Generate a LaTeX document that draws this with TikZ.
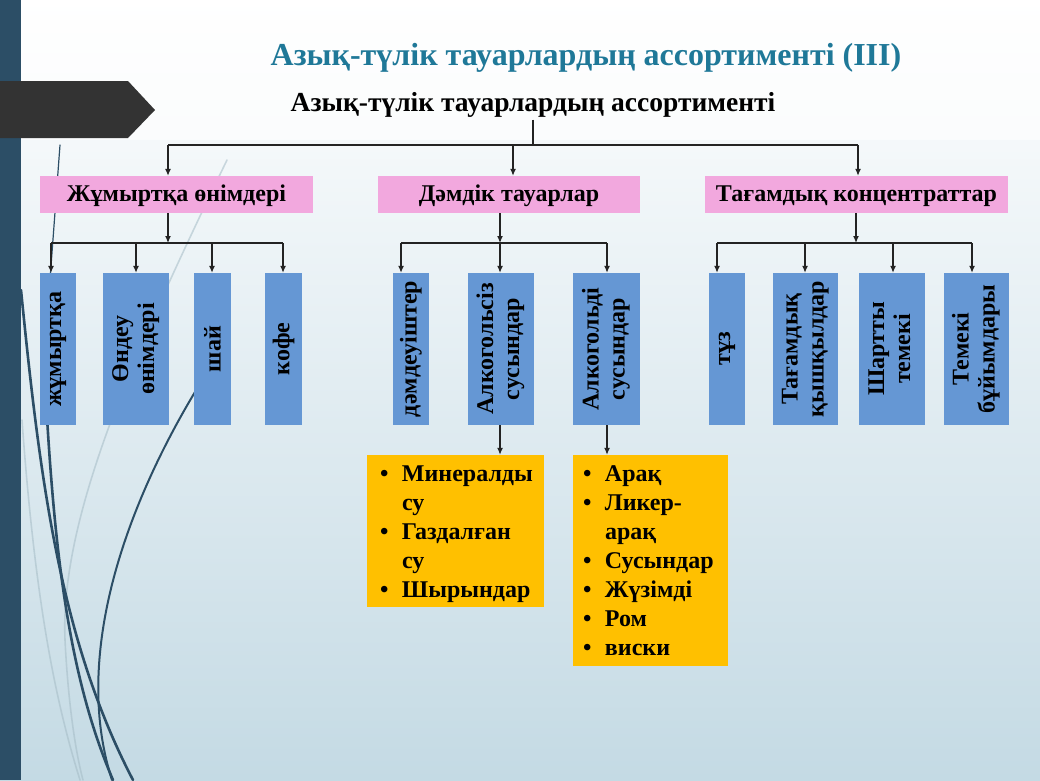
\documentclass[tikz,border=0pt]{standalone}
\usepackage{fontspec}
\setmainfont{Liberation Serif}
\usetikzlibrary{arrows.meta}
\definecolor{stripcol}{RGB}{44,78,102}
\definecolor{tagcol}{RGB}{51,51,51}
\definecolor{titlecol}{RGB}{31,120,152}
\definecolor{pinkcol}{RGB}{242,168,222}
\definecolor{bluecol}{RGB}{101,151,212}
\definecolor{yellowcol}{RGB}{255,192,0}
\definecolor{bgbot}{RGB}{196,218,228}
\definecolor{bgmid}{RGB}{222,235,240}
\definecolor{curvelight}{RGB}{165,188,198}
\definecolor{linecol}{RGB}{35,35,35}
\begin{document}
\begin{tikzpicture}[x=1pt,y=-1pt,
  ln/.style={draw=linecol, line width=1.2pt},
  arr/.style={ln, -{Latex[length=7pt,width=6pt]}},
  pinkbx/.style={fill=pinkcol, inner sep=0pt, minimum height=37pt, text height=18pt, text depth=5pt, font=\bfseries\fontsize{24}{28}\selectfont},
  bluebx/.style={fill=bluecol, inner sep=0pt, minimum height=152pt, font=\bfseries\fontsize{24}{26}\selectfont},
  yellowbx/.style={fill=yellowcol, inner sep=0pt},
  ytext/.style={anchor=north west, inner sep=0pt, font=\bfseries\fontsize{24}{29}\selectfont},
  darkcurve/.style={draw=stripcol, line cap=round},
  lightcurve/.style={draw=curvelight, line width=1.6pt, opacity=0.55, line cap=round}
]
\useasboundingbox (0,0) rectangle (1040,780);
% background
\shade[top color=white, middle color=bgmid, bottom color=bgbot] (0,0) rectangle (1040,780);
\fill[white, opacity=0.6] (0,0) rectangle (1040,140);
\fill[stripcol] (0,0) rectangle (21,780);
\fill[tagcol] (0,81) -- (128,81) -- (155,110) -- (128,138) -- (0,138) -- cycle;

% decorative curves
\draw[lightcurve] (227,160) .. controls (130,360) and (60,520) .. (65,640) .. controls (68,700) and (75,750) .. (83,780);
\draw[lightcurve] (22,420) .. controls (35,600) and (55,700) .. (80,780);
\draw[darkcurve, line width=1.2pt] (60,145) -- (47,320);
\draw[darkcurve, line width=2.6pt] (21,290) .. controls (40,480) and (60,640) .. (133,780);
\draw[darkcurve, line width=2.6pt] (46,400) .. controls (55,560) and (70,680) .. (113,780);
\draw[darkcurve, line width=2pt] (215,360) .. controls (130,490) and (70,650) .. (112,780);

% titles
\node[font=\bfseries\fontsize{32}{36}\selectfont, text=titlecol] (title) at (586,58) {Азық-түлік тауарлардың ассортименті (ІІІ)};
\node[font=\bfseries\fontsize{27.5}{30}\selectfont, inner sep=2pt] (sub) at (533,105) {Азық-түлік тауарлардың ассортименті};

% level 2
\node[pinkbx, minimum width=273pt] (p1) at (176.5,194.5) {Жұмыртқа өнімдері};
\node[pinkbx, minimum width=262pt] (p2) at (509,194.5) {Дәмдік тауарлар};
\node[pinkbx, minimum width=303pt] (p3) at (856.5,194.5) {Тағамдық концентраттар};

% level 3
\node[bluebx, minimum width=36pt] (e1) at (58,349) {\rotatebox{90}{жұмыртқа}};
\node[bluebx, minimum width=66pt] (e2) at (136,349) {\rotatebox{90}{\begin{tabular}{@{}c@{}}Өндеу\\өнімдері\end{tabular}}};
\node[bluebx, minimum width=37pt] (e3) at (212.5,349) {\rotatebox{90}{шай}};
\node[bluebx, minimum width=37pt] (e4) at (283.5,349) {\rotatebox{90}{кофе}};
\node[bluebx, minimum width=36pt] (e5) at (411,349) {\rotatebox{90}{дәмдеуіштер}};
\node[bluebx, minimum width=66pt] (e6) at (501,349) {\rotatebox{90}{\begin{tabular}{@{}c@{}}Алкогольсіз\\сусындар\end{tabular}}};
\node[bluebx, minimum width=67pt] (e7) at (606.5,349) {\rotatebox{90}{\begin{tabular}{@{}c@{}}Алкогольді\\сусындар\end{tabular}}};
\node[bluebx, minimum width=36pt] (e8) at (727,349) {\rotatebox{90}{тұз}};
\node[bluebx, minimum width=65pt] (e9) at (805.5,349) {\rotatebox{90}{\begin{tabular}{@{}c@{}}Тағамдық\\қышқылдар\end{tabular}}};
\node[bluebx, minimum width=66pt] (e10) at (892,349) {\rotatebox{90}{\begin{tabular}{@{}c@{}}Шартты\\темекі\end{tabular}}};
\node[bluebx, minimum width=65pt] (e11) at (976.5,349) {\rotatebox{90}{\begin{tabular}{@{}c@{}}Темекі\\бұйымдары\end{tabular}}};

% level 4
\node[yellowbx, minimum width=177pt, minimum height=152pt] (y1) at (455.5,531) {};
\node[yellowbx, minimum width=155pt, minimum height=211pt] (y2) at (650.5,560.5) {};
\node[ytext] (y1t) at ([xshift=13pt,yshift=-6pt]y1.north west) {\begin{tabular}{@{}l@{}l@{}}
\makebox[22pt][l]{•}&Минералды\\ &су\\ \makebox[22pt][l]{•}&Газдалған\\ &су\\ \makebox[22pt][l]{•}&Шырындар\end{tabular}};
\node[ytext] (y2t) at ([xshift=10pt,yshift=-6pt]y2.north west) {\begin{tabular}{@{}l@{}l@{}}
\makebox[22pt][l]{•}&Арақ\\ \makebox[22pt][l]{•}&Ликер-\\ &арақ\\ \makebox[22pt][l]{•}&Сусындар\\ \makebox[22pt][l]{•}&Жүзімді\\ \makebox[22pt][l]{•}&Ром\\ \makebox[22pt][l]{•}&виски\end{tabular}};

% connectors: top
\coordinate (t0) at (533,145);
\coordinate (tL) at (168,145);
\coordinate (tM) at (513,145);
\coordinate (tR) at (858,145);
\draw[ln] (sub.south -| t0) -- (t0);
\draw[ln] (tL) -- (tR);
\draw[arr] (tL) -- (tL |- p1.north);
\draw[arr] (tM) -- (tM |- p2.north);
\draw[arr] (tR) -- (tR |- p3.north);

% group 1
\coordinate (b1) at (168,243);
\coordinate (a11) at (51,243);
\coordinate (a12) at (136,243);
\coordinate (a13) at (212,243);
\coordinate (a14) at (283,243);
\draw[arr] (p1.south -| b1) -- (b1);
\draw[ln] (a11) -- (a14);
\draw[arr] (a11) -- (a11 |- e1.north);
\draw[arr] (a12) -- (a12 |- e2.north);
\draw[arr] (a13) -- (a13 |- e3.north);
\draw[arr] (a14) -- (a14 |- e4.north);

% group 2
\coordinate (b2) at (500,243);
\coordinate (a21) at (401,243);
\coordinate (a22) at (500,243);
\coordinate (a23) at (607,243);
\draw[arr] (p2.south -| b2) -- (b2);
\draw[ln] (a21) -- (a23);
\draw[arr] (a21) -- (a21 |- e5.north);
\draw[arr] (a22) -- (a22 |- e6.north);
\draw[arr] (a23) -- (a23 |- e7.north);

% group 3
\coordinate (b3) at (856,243);
\coordinate (a31) at (717,243);
\coordinate (a32) at (805,243);
\coordinate (a33) at (893,243);
\coordinate (a34) at (972,243);
\draw[arr] (p3.south -| b3) -- (b3);
\draw[ln] (a31) -- (a34);
\draw[arr] (a31) -- (a31 |- e8.north);
\draw[arr] (a32) -- (a32 |- e9.north);
\draw[arr] (a33) -- (a33 |- e10.north);
\draw[arr] (a34) -- (a34 |- e11.north);

% to yellow boxes
\coordinate (c6) at (500,425);
\coordinate (c7) at (607,425);
\draw[arr] (e6.south -| c6) -- (c6 |- y1.north);
\draw[arr] (e7.south -| c7) -- (c7 |- y2.north);
\end{tikzpicture}
\end{document}
